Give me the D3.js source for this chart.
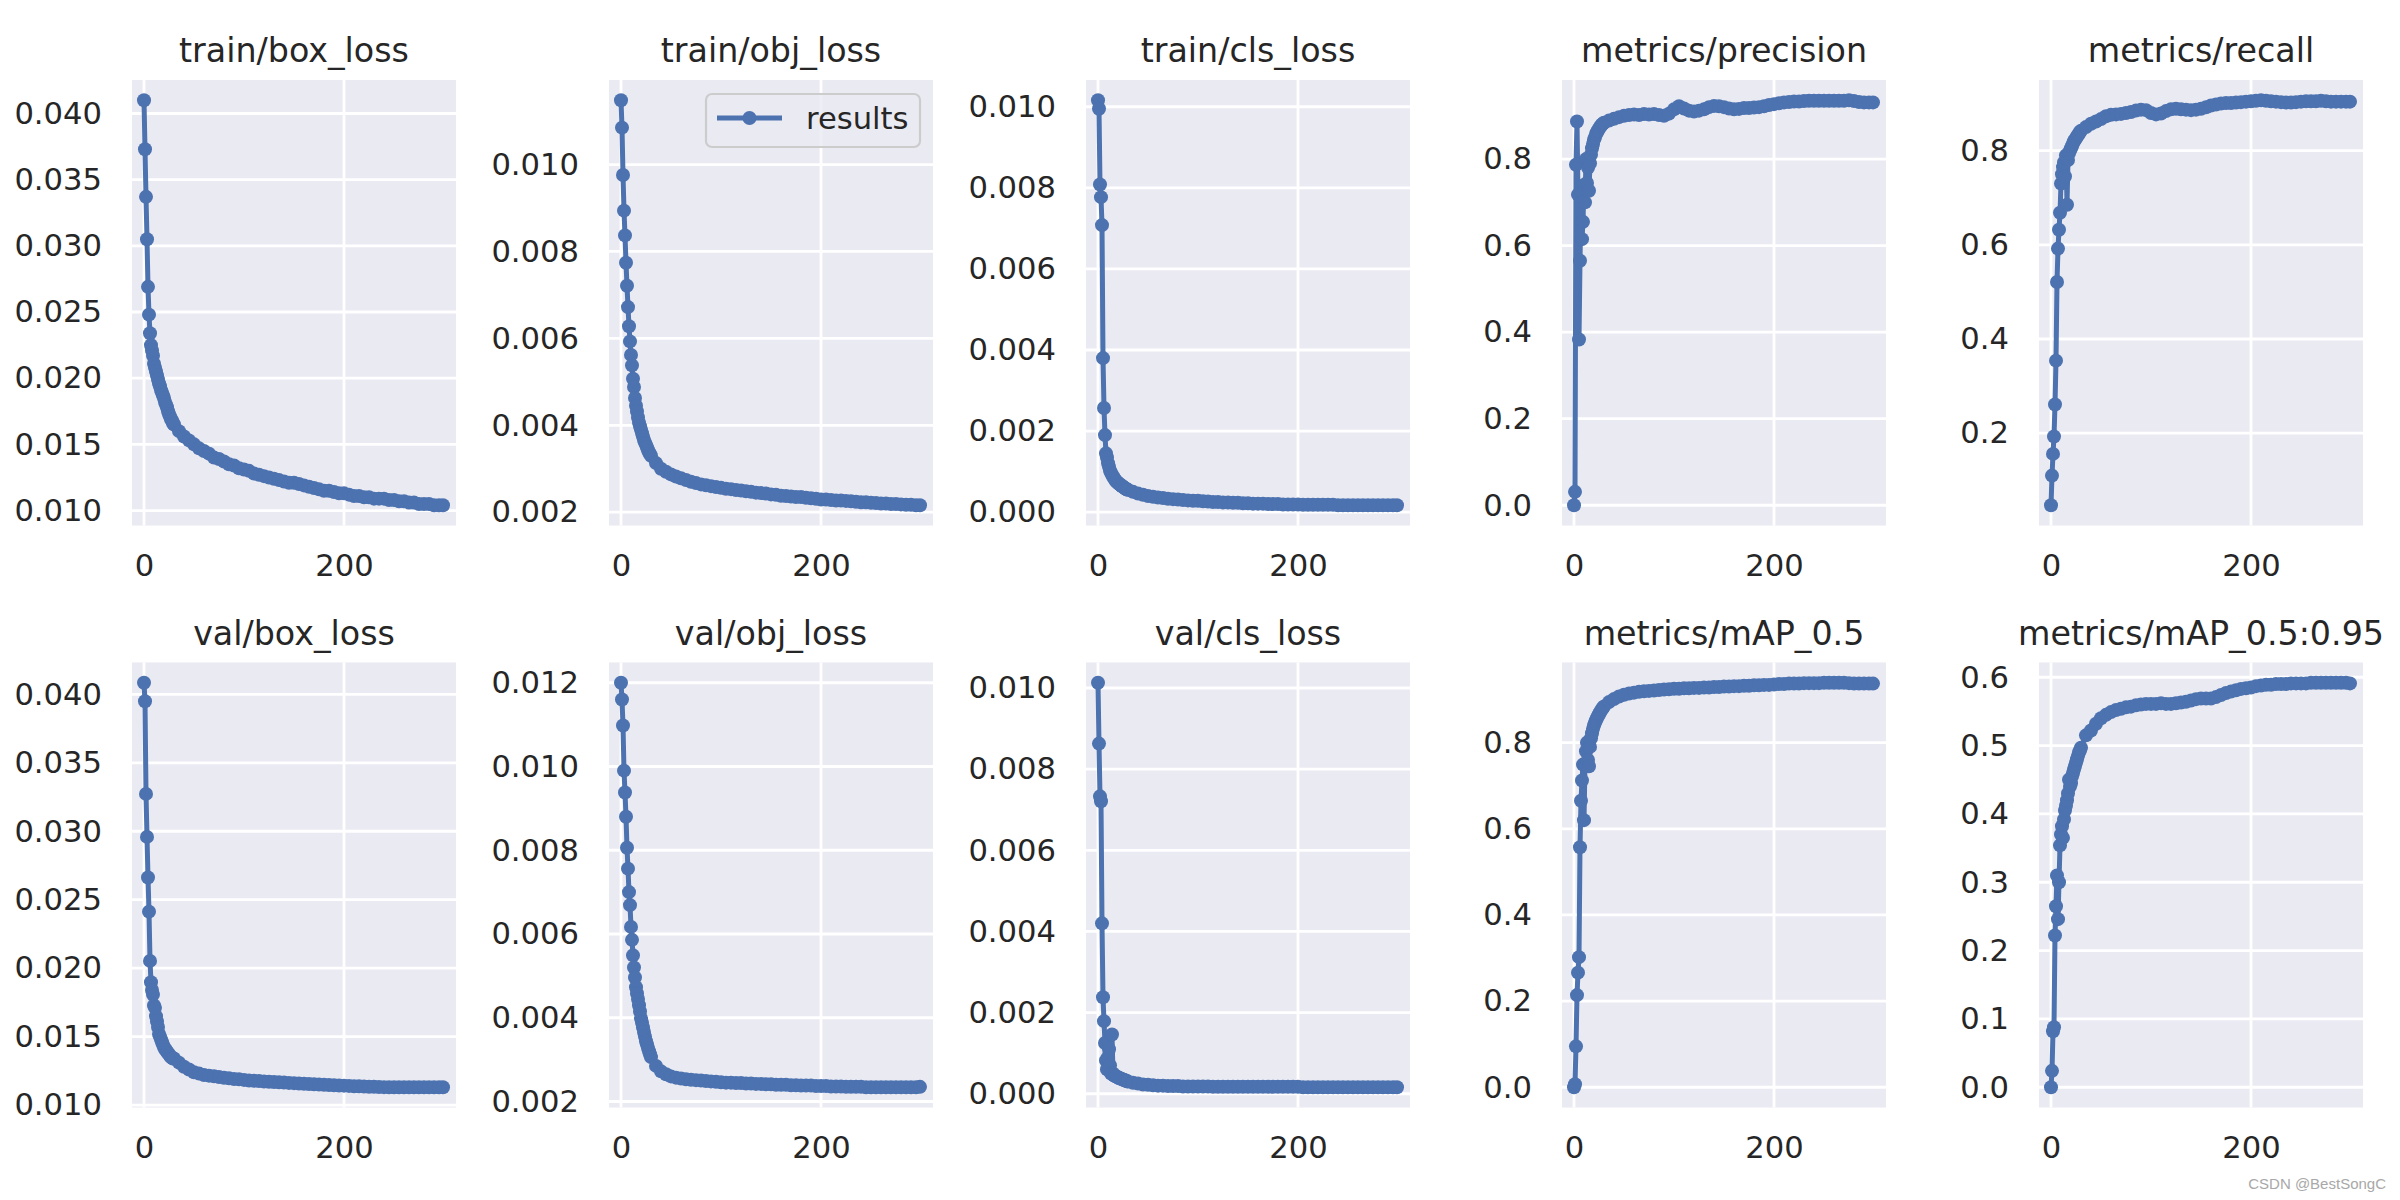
<!DOCTYPE html>
<html>
<head>
<meta charset="utf-8">
<script src="https://cdn.jsdelivr.net/npm/d3@7"></script>
<style>
  body { margin: 0; background: #fff; }
  svg { display: block; }
</style>
</head>
<body>
<div id="chart"></div>
<script>
// epochs: every epoch early on, then every 5th
const epochs = [0,1,2,3,4,5,6,7,8,9,10,11,12,13,14,15,16,17,18,19,20,21,22,23,24,25,26,27,28,29,
  30,35,40,45,50,55,60,65,70,75,80,85,90,95,100,105,110,115,120,125,
  130,135,140,145,150,155,160,165,170,175,180,185,190,195,200,205,210,215,220,225,
  230,235,240,245,250,255,260,265,270,275,280,285,290,295,299];

const trainBox = [0.0410,0.0373,0.0337,0.0305,0.0269,0.0248,0.0234,0.0225,0.0221,0.0217,
  0.0211,0.0208,0.0205,0.0202,0.0199,0.0196,0.0194,0.0191,0.0189,0.0187,
  0.0185,0.0182,0.0180,0.0178,0.0175,0.0173,0.0171,0.0169,0.0168,0.0166,
  0.0165,0.0160,0.0156,0.0153,0.0150,0.0147,0.0145,0.0143,0.0140,0.0139,
  0.0137,0.0135,0.0134,0.0132,0.0131,0.0130,0.0128,0.0127,0.0126,0.0125,
  0.0124,0.0123,0.0122,0.0121,0.0121,0.0120,0.0119,0.0118,0.0117,0.0116,
  0.0115,0.0115,0.0114,0.0113,0.0113,0.0112,0.0111,0.0111,0.0110,0.0110,
  0.0109,0.0109,0.0109,0.0108,0.0108,0.0107,0.0107,0.0106,0.0106,0.0105,
  0.0105,0.0105,0.0104,0.0104,0.0104];

const trainObj = [0.01148,0.01085,0.00976,0.00894,0.00837,0.00774,0.00721,0.00672,0.00628,0.00593,
  0.00562,0.00538,0.00507,0.00488,0.00463,0.00445,0.00432,0.00418,0.00406,0.00398,
  0.00390,0.00382,0.00374,0.00366,0.00360,0.00355,0.00349,0.00343,0.00338,0.00334,
  0.00330,0.00313,0.00300,0.00293,0.00287,0.00282,0.00278,0.00274,0.00270,0.00267,
  0.00264,0.00262,0.00260,0.00258,0.00256,0.00254,0.00253,0.00251,0.00250,0.00248,
  0.00247,0.00245,0.00244,0.00243,0.00241,0.00240,0.00238,0.00237,0.00236,0.00235,
  0.00235,0.00233,0.00232,0.00231,0.00229,0.00229,0.00228,0.00227,0.00227,0.00226,
  0.00225,0.00224,0.00223,0.00223,0.00222,0.00221,0.00220,0.00220,0.00219,0.00219,
  0.00218,0.00217,0.00217,0.00216,0.00216];

const trainCls = [0.01016,0.00995,0.00808,0.00777,0.00708,0.00380,0.00257,0.00190,0.00145,0.00135,
  0.00121,0.00112,0.00102,0.00097,0.00092,0.00088,0.00084,0.00080,0.00077,0.00074,
  0.00072,0.00070,0.00068,0.00066,0.00064,0.00063,0.00061,0.00059,0.00057,0.00056,
  0.00055,0.00050,0.00046,0.00043,0.00040,0.00038,0.00036,0.00035,0.00033,0.00032,
  0.00031,0.00030,0.00029,0.00028,0.00028,0.00027,0.00026,0.00025,0.00025,0.00024,
  0.00024,0.00023,0.00023,0.00022,0.00022,0.00021,0.00021,0.00021,0.00020,0.00020,
  0.00020,0.00019,0.00019,0.00019,0.00019,0.00018,0.00018,0.00018,0.00018,0.00018,
  0.00018,0.00018,0.00017,0.00017,0.00017,0.00017,0.00017,0.00017,0.00017,0.00017,
  0.00017,0.00017,0.00017,0.00017,0.00017];

const precision = [0.000,0.031,0.787,0.887,0.718,0.383,0.565,0.700,0.615,0.655,
  0.740,0.700,0.800,0.745,0.780,0.727,0.790,0.810,0.825,0.835,
  0.845,0.850,0.858,0.862,0.866,0.870,0.874,0.877,0.880,0.882,
  0.884,0.889,0.893,0.897,0.900,0.902,0.903,0.902,0.904,0.903,
  0.904,0.902,0.900,0.905,0.915,0.922,0.917,0.912,0.910,0.912,
  0.915,0.920,0.923,0.922,0.920,0.917,0.915,0.916,0.918,0.918,
  0.919,0.920,0.922,0.925,0.927,0.929,0.931,0.932,0.933,0.933,
  0.934,0.935,0.935,0.935,0.935,0.935,0.935,0.935,0.935,0.936,
  0.934,0.932,0.931,0.931,0.931];

const recall = [0.047,0.110,0.156,0.193,0.261,0.354,0.521,0.592,0.632,0.668,
  0.730,0.750,0.765,0.775,0.745,0.790,0.685,0.780,0.795,0.800,
  0.805,0.810,0.815,0.820,0.823,0.826,0.830,0.833,0.836,0.840,
  0.842,0.850,0.857,0.862,0.867,0.873,0.876,0.877,0.878,0.880,
  0.882,0.885,0.887,0.886,0.880,0.877,0.879,0.884,0.888,0.889,
  0.888,0.887,0.886,0.887,0.889,0.892,0.896,0.898,0.900,0.901,
  0.901,0.902,0.903,0.904,0.905,0.906,0.907,0.906,0.905,0.904,
  0.903,0.902,0.902,0.903,0.904,0.905,0.905,0.905,0.906,0.905,
  0.904,0.904,0.904,0.904,0.904];

const valBox = [0.04085,0.0395,0.03273,0.02959,0.02662,0.02413,0.02053,0.01898,0.01841,0.01807,
  0.01728,0.0171,0.0165,0.0161,0.0157,0.0152,0.0150,0.0148,0.0146,0.0144,
  0.01425,0.0141,0.0140,0.0139,0.0138,0.0137,0.0136,0.0135,0.01345,0.0134,
  0.0134,0.0131,0.0128,0.0126,0.0124,0.0123,0.0122,0.01215,0.0121,0.01205,
  0.0120,0.01195,0.0119,0.01188,0.01184,0.0118,0.01177,0.01175,0.01172,0.0117,
  0.01168,0.01166,0.01164,0.01162,0.0116,0.01158,0.01156,0.01154,0.01152,0.0115,
  0.01148,0.01146,0.01144,0.01143,0.01142,0.0114,0.01138,0.01137,0.01136,0.01134,
  0.01133,0.01132,0.01131,0.0113,0.0113,0.0113,0.0113,0.0113,0.0113,0.0113,
  0.0113,0.0113,0.0113,0.0113,0.0113];

const valObj = [0.0120,0.0116,0.01098,0.0099,0.00938,0.0088,0.00806,0.00756,0.0070,0.00669,
  0.00617,0.00586,0.00549,0.0052,0.00496,0.00473,0.00458,0.00445,0.00430,0.00415,
  0.00399,0.00388,0.00377,0.00366,0.00355,0.00344,0.00336,0.00328,0.00320,0.00313,
  0.00306,0.00285,0.00272,0.00265,0.00260,0.00257,0.00255,0.00253,0.00252,0.00251,
  0.00250,0.00249,0.00248,0.00247,0.00246,0.00245,0.00245,0.00244,0.00244,0.00243,
  0.00243,0.00242,0.00242,0.00241,0.00241,0.00240,0.00240,0.00240,0.00239,0.00239,
  0.00238,0.00238,0.00238,0.00237,0.00237,0.00237,0.00236,0.00236,0.00236,0.00235,
  0.00235,0.00235,0.00235,0.00234,0.00234,0.00234,0.00234,0.00234,0.00234,0.00234,
  0.00234,0.00234,0.00234,0.00234,0.00235];

const valCls = [0.01013,0.00863,0.00733,0.00721,0.00420,0.00238,0.00179,0.00125,0.00082,0.00060,
  0.00090,0.00110,0.00070,0.00050,0.00146,0.00050,0.00045,0.00044,0.00043,0.00042,
  0.00040,0.00039,0.00038,0.00037,0.00036,0.00035,0.00034,0.00033,0.00032,0.00031,
  0.00030,0.00027,0.00025,0.00023,0.00022,0.00021,0.00020,0.00020,0.00019,0.00019,
  0.00019,0.00018,0.00018,0.00018,0.00018,0.00018,0.00018,0.00017,0.00017,0.00017,
  0.00017,0.00017,0.00017,0.00017,0.00017,0.00017,0.00017,0.00017,0.00017,0.00017,
  0.00017,0.00017,0.00017,0.00017,0.00017,0.00016,0.00016,0.00016,0.00016,0.00016,
  0.00016,0.00016,0.00016,0.00016,0.00016,0.00016,0.00016,0.00016,0.00016,0.00016,
  0.00016,0.00016,0.00016,0.00016,0.00016];

const map50 = [0.000,0.007,0.095,0.214,0.266,0.302,0.557,0.665,0.712,0.749,
  0.620,0.750,0.780,0.800,0.760,0.745,0.790,0.810,0.822,0.832,
  0.840,0.846,0.852,0.857,0.862,0.866,0.870,0.874,0.878,0.881,
  0.884,0.894,0.901,0.907,0.911,0.914,0.916,0.918,0.919,0.920,
  0.921,0.922,0.923,0.924,0.925,0.925,0.926,0.926,0.927,0.927,
  0.928,0.928,0.929,0.929,0.930,0.930,0.931,0.931,0.932,0.932,
  0.933,0.933,0.934,0.934,0.935,0.936,0.936,0.937,0.937,0.937,
  0.938,0.938,0.938,0.938,0.939,0.939,0.939,0.939,0.939,0.938,
  0.937,0.937,0.937,0.937,0.937];

const map5095 = [0.000,0.024,0.082,0.088,0.222,0.265,0.310,0.246,0.300,0.354,
  0.370,0.382,0.365,0.392,0.405,0.412,0.420,0.430,0.450,0.440,
  0.445,0.455,0.460,0.465,0.470,0.475,0.480,0.485,0.490,0.493,
  0.497,0.515,0.522,0.532,0.540,0.545,0.549,0.552,0.554,0.556,
  0.557,0.559,0.560,0.561,0.561,0.561,0.562,0.561,0.561,0.562,
  0.563,0.564,0.566,0.568,0.569,0.569,0.569,0.571,0.574,0.577,
  0.579,0.581,0.583,0.584,0.585,0.587,0.588,0.589,0.589,0.590,
  0.590,0.590,0.591,0.591,0.591,0.591,0.592,0.592,0.592,0.592,
  0.592,0.592,0.592,0.592,0.591];

const titles = ["train/box_loss", "train/obj_loss", "train/cls_loss", "metrics/precision", "metrics/recall",
  "val/box_loss", "val/obj_loss", "val/cls_loss", "metrics/mAP_0.5", "metrics/mAP_0.5:0.95"];
const series = [trainBox, trainObj, trainCls, precision, recall, valBox, valObj, valCls, map50, map5095];

const lossTicksA = [0.010, 0.015, 0.020, 0.025, 0.030, 0.035, 0.040];
const objTicksTrain = [0.002, 0.004, 0.006, 0.008, 0.010];
const clsTicks = [0.000, 0.002, 0.004, 0.006, 0.008, 0.010];
const precTicks = [0.0, 0.2, 0.4, 0.6, 0.8];
const recallTicks = [0.2, 0.4, 0.6, 0.8];
const objTicksVal = [0.002, 0.004, 0.006, 0.008, 0.010, 0.012];
const map95Ticks = [0.0, 0.1, 0.2, 0.3, 0.4, 0.5, 0.6];
const xTicks = [0, 200];

const yTicks = [lossTicksA, objTicksTrain, clsTicks, precTicks, recallTicks,
  lossTicksA, objTicksVal, clsTicks, precTicks, map95Ticks];
const yFormats = [".3f", ".3f", ".3f", ".1f", ".1f", ".3f", ".3f", ".3f", ".1f", ".1f"];

// layout
const W = 2400, H = 1200;
const lefts = [132, 609, 1086, 1562, 2039], panelW = 324;
const rows = [{ top: 80, bottom: 525.5 }, { top: 662.5, bottom: 1107.5 }];
const xDomain = [-12, 312];
const blue = "#4C72B0", ink = "#262626";
const font = "'DejaVu Sans', sans-serif";
const markerR = 7;

const svg = d3.select("#chart").append("svg")
    .attr("width", W)
    .attr("height", H);
svg.append("rect").attr("width", W).attr("height", H).attr("fill", "#fff");
const defs = svg.append("defs");

series.forEach((vals, i) => {
    const row = rows[Math.floor(i / 5)], left = lefts[i % 5];
    const top = row.top, bottom = row.bottom;

    const x = d3.scaleLinear().domain(xDomain).range([left, left + panelW]);
    const [lo, hi] = d3.extent(vals);
    const pad = (hi - lo) * 0.05;
    const y = d3.scaleLinear().domain([lo - pad, hi + pad]).range([bottom, top]);

    const g = svg.append("g");
    g.append("rect")
        .attr("x", left).attr("y", top)
        .attr("width", panelW).attr("height", bottom - top)
        .attr("fill", "#EAEAF2");

    g.append("g").selectAll("line").data(yTicks[i]).join("line")
        .attr("x1", left).attr("x2", left + panelW)
        .attr("y1", d => y(d)).attr("y2", d => y(d))
        .attr("stroke", "#fff").attr("stroke-width", 2.8);
    g.append("g").selectAll("line").data(xTicks).join("line")
        .attr("x1", d => x(d)).attr("x2", d => x(d))
        .attr("y1", top).attr("y2", bottom)
        .attr("stroke", "#fff").attr("stroke-width", 2.8);

    defs.append("clipPath").attr("id", "clip" + i)
        .append("rect")
        .attr("x", left).attr("y", top)
        .attr("width", panelW).attr("height", bottom - top);

    const pts = epochs.map((e, k) => [e, vals[k]]);
    const plot = g.append("g").attr("clip-path", `url(#clip${i})`);
    plot.append("path")
        .datum(pts)
        .attr("fill", "none")
        .attr("stroke", blue)
        .attr("stroke-width", 5)
        .attr("stroke-linejoin", "round")
        .attr("d", d3.line().x(d => x(d[0])).y(d => y(d[1])));
    plot.append("g").selectAll("circle").data(pts).join("circle")
        .attr("cx", d => x(d[0])).attr("cy", d => y(d[1]))
        .attr("r", markerR)
        .attr("fill", blue);

    g.append("g")
        .attr("transform", `translate(${left},0)`)
        .call(d3.axisLeft(y).tickValues(yTicks[i]).tickFormat(d3.format(yFormats[i])).tickSize(0).tickPadding(30))
        .call(a => a.select(".domain").remove())
        .attr("font-size", 30.6).attr("font-family", font).attr("color", ink);

    g.append("g")
        .attr("transform", `translate(0,${bottom})`)
        .call(d3.axisBottom(x).tickValues(xTicks).tickSize(0).tickPadding(29))
        .call(a => a.select(".domain").remove())
        .attr("font-size", 30.6).attr("font-family", font).attr("color", ink);

    g.append("text")
        .attr("x", left + panelW / 2).attr("y", top - 18)
        .attr("text-anchor", "middle")
        .attr("font-family", font).attr("font-size", 33.3)
        .attr("fill", ink)
        .text(titles[i]);

    if (i === 1) {
        const lg = g.append("g");
        lg.append("rect")
            .attr("x", 706).attr("y", 94).attr("width", 214).attr("height", 53)
            .attr("rx", 6).attr("fill", "#EAEAF2").attr("fill-opacity", 0.8)
            .attr("stroke", "#cccccc").attr("stroke-width", 2.2);
        lg.append("line")
            .attr("x1", 717).attr("x2", 782).attr("y1", 118).attr("y2", 118)
            .attr("stroke", blue).attr("stroke-width", 5);
        lg.append("circle").attr("cx", 749.5).attr("cy", 118).attr("r", markerR).attr("fill", blue);
        lg.append("text")
            .attr("x", 806).attr("y", 118).attr("dy", "0.35em")
            .attr("font-family", font).attr("font-size", 30.6).attr("fill", ink)
            .text("results");
    }
});

svg.append("text")
    .attr("x", 2386).attr("y", 1189)
    .attr("text-anchor", "end")
    .attr("font-family", "'Liberation Sans', Arial, sans-serif")
    .attr("font-size", 15)
    .attr("fill", "#a8a8a8")
    .text("CSDN @BestSongC");
</script>
</body>
</html>
